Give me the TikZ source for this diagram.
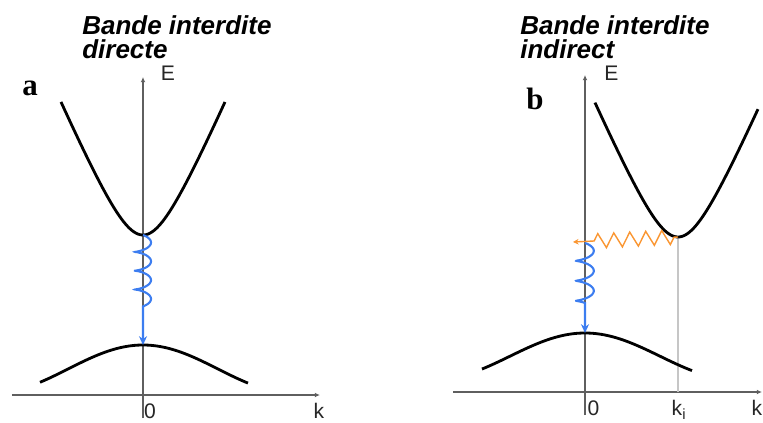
\documentclass[tikz,border=0pt]{standalone}
\usepackage{fontspec}
\setmainfont{Liberation Sans}
\newfontfamily\serifbold{Liberation Serif}
\usetikzlibrary{arrows.meta, decorations.pathmorphing, positioning}
\definecolor{PhotonBlue}{RGB}{60,125,240}
\definecolor{PhononOrange}{RGB}{250,150,50}
\definecolor{AxisGray}{RGB}{95,95,95}

\begin{document}
\begin{tikzpicture}[
	ax/.style={-{Latex[length=1.3mm, width=1.2mm]}, line width=0.9pt, AxisGray},
	bande/.style={line width=2pt, black},
	ph/.style={-{Stealth[length=2.2mm, width=2mm]}, line width=1.5pt, PhotonBlue},
	phon/.style={-{Stealth[length=1.4mm, width=1.4mm]}, line width=1pt, PhononOrange, decorate},
	titre/.style={anchor=north west, inner sep=0pt, align=left, font=\fontsize{18.5}{17}\selectfont\bfseries\itshape},
	lbl/.style={font=\fontsize{15}{15}\selectfont, text=black!85, inner sep=0pt},
	lettre/.style={font=\serifbold\fontsize{22}{22}\selectfont\bfseries, inner sep=0pt}]

	\useasboundingbox (-3.575,-0.675) rectangle (15.5,9.875);

	% ---------- a : bande interdite directe ----------
	\begin{scope}
		\coordinate (kg1) at (-3.275,0);
		\coordinate (kd1) at (4.425,0);
		\coordinate (Eb1) at (0,-0.575);
		\coordinate (Eh1) at (0,7.95);
		\coordinate (cb1) at (0,4.0);
		\coordinate (vb1) at (0,1.25);
		\draw[ax] (kg1) -- (kd1);
		\draw[ax] (Eb1) -- (Eh1);
		\draw[bande] plot[domain=-2.05:2.05, samples=80] (\x, {4+1.741*(sqrt(1+(\x/0.75)^2)-1)});
		\draw[bande] plot[domain=-2.575:2.625, samples=80] (\x, {1.25-0.6*(1-cos(\x*48))});
		\draw[ph] plot[domain=0:1260, samples=160, variable=\t] ({0.2*sin(\t)}, {4-0.47*\t/360+0.07*(cos(\t)-1)}) -- (vb1);
		\node[lbl] (E1) at (0.625,8.05) {E};
		\node[lbl, anchor=north west] (zero1) at (0.02,-0.2) {0};
		\node[lbl] (k1) at (4.4,-0.4) {k};
		\node[lettre] (a) at (-2.825,7.675) {a};
		\node[titre] (t1) at (-1.525,9.5) {Bande interdite\\directe};
	\end{scope}

	% ---------- b : bande interdite indirecte ----------
	\begin{scope}[xshift=11.05cm, yshift=0.075cm]
		\coordinate (kg2) at (-3.3,0);
		\coordinate (kd2) at (4.425,0);
		\coordinate (Eb2) at (0,-0.575);
		\coordinate (Eh2) at (0,7.925);
		\coordinate (cb2) at (2.325,3.875);
		\coordinate (ki2) at (2.325,0);
		\coordinate (vb2) at (0,1.475);
		\coordinate (pt2) at (-0.3,3.75);
		\draw[ax] (kg2) -- (kd2);
		\draw[ax] (Eb2) -- (Eh2);
		\draw[gray!45, line width=0.9pt] (cb2) -- (ki2);
		\draw[bande] plot[domain=-2.075:2.0, samples=80] (\x+2.325, {3.875+1.73*(sqrt(1+(\x/0.75)^2)-1)});
		\draw[bande] plot[domain=-2.575:2.675, samples=80] (\x, {1.475-0.58*(1-cos(\x*48))});
		\draw[phon, decoration={zigzag, amplitude=0.18cm, segment length=0.4cm, pre length=0.1cm, post length=0.5cm}] (cb2) -- (pt2);
		\draw[ph] plot[domain=0:1080, samples=140, variable=\t] ({0.22*sin(\t)}, {3.725-0.5*\t/360+0.07*(cos(\t)-1)}) -- (vb2);
		\node[lbl] (E2) at (0.66,7.98) {E};
		\node[lbl, anchor=north west] (zero2) at (0.06,-0.2) {0};
		\node[lbl, anchor=north] (ki) at (2.35,-0.2) {k\textsubscript{i}};
		\node[lbl] (k2) at (4.3,-0.4) {k};
		\node[lettre] (b) at (-1.25,7.325) {b};
		\node[titre] (t2) at (-1.625,9.425) {Bande interdite\\indirect};
	\end{scope}
\end{tikzpicture}
\end{document}
